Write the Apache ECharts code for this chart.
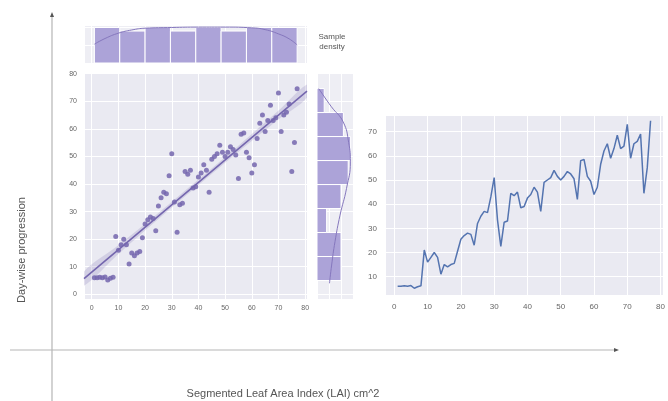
<!DOCTYPE html>
<html>
<head>
<meta charset="utf-8">
<script src="https://cdn.jsdelivr.net/npm/echarts@6/dist/echarts.min.js"></script>
<style>
    html, body { margin: 0; padding: 0; background: #fff; }
    #chart { width: 668px; height: 401px; }
</style>
</head>
<body>
<div id="chart"></div>
<script>
// LAI readings, one per sampling day (day = position + 1)
const laiValues = [
    6, 6, 6.2, 6, 6.3, 5.2, 5.8, 6.2, 21, 16,
    18, 20, 18, 11, 15, 14, 15, 15.5, 20.5, 25.5,
    27, 28, 27.5, 23, 32, 35, 37, 36.5, 43, 51,
    33.5, 22.5, 32.5, 33, 44.5, 43.5, 45, 38.5, 39, 42.5,
    44, 47, 45, 37, 49, 50, 51, 54, 51.5, 50,
    51.5, 53.5, 52.5, 50.5, 42, 58, 58.5, 51.5, 49.5, 44,
    47, 56.5, 62, 65, 59, 63, 68.5, 63, 64, 73,
    59, 65, 66, 69, 44.5, 55, 74.5
];
const days = laiValues.map((v, i) => i + 1);

// marginal histograms (bin edges + counts)
const dayBinEdges = [1, 10.5, 20, 29.5, 39, 48.5, 58, 67.5, 77];
const dayBinCounts = [10, 9, 10, 9, 10, 9, 10, 10];
const laiBinEdges = [5, 13.7, 22.4, 31.1, 39.8, 48.5, 57.2, 65.9, 74.6];
const laiBinCounts = [10, 10, 4, 10, 13, 14, 11, 3];

// density curves drawn over the histograms (in count units)
const dayKdeX = [1, 5, 10, 15, 20, 30, 40, 50, 60, 65, 70, 74, 77];
const dayKdeY = [5.3, 6.9, 8.4, 9.3, 9.8, 10.0, 10.1, 10.1, 9.9, 9.4, 8.2, 6.8, 5.1];
const laiKdeX = [4, 10.6, 19.1, 28.7, 38.4, 48, 55, 62.5, 68, 74.6];
const laiKdeY = [5.2, 6.1, 7.5, 9.6, 12.3, 13.9, 13.2, 10.9, 6, 0.7];

// regression fit and its confidence band
const fitX = [-2.9, 80.7];
const fitY = [5.7, 73.7];
const bandX = [-2.9, 10, 25, 40, 55, 70, 80.7];
const bandLow = [3.1, 14.6, 27.3, 39.6, 51.7, 63.4, 71.3];
const bandHigh = [8.3, 17.8, 29.5, 41.6, 53.9, 66.6, 76.1];

const purple = '#7466ae';
const barColor = '#aca3d8';
const font = 'Liberation Sans, Arial, sans-serif';

function bins(edges, counts) {
    return counts.map((c, i) => [edges[i], edges[i + 1], c]);
}

function histRender(horizontal) {
    return function (params, api) {
        const lo = api.value(0), hi = api.value(1), c = api.value(2);
        const a = horizontal ? api.coord([0, lo]) : api.coord([lo, 0]);
        const b = horizontal ? api.coord([c, hi]) : api.coord([hi, c]);
        return {
            type: 'rect',
            shape: {
                x: Math.min(a[0], b[0]), y: Math.min(a[1], b[1]),
                width: Math.abs(b[0] - a[0]), height: Math.abs(b[1] - a[1])
            },
            style: { fill: barColor, stroke: '#fff', lineWidth: 1 }
        };
    };
}

function tenOnly(v) {
    return Math.abs(v - Math.round(v / 10) * 10) < 1e-6 ? String(Math.round(v)) : '';
}

function valAxis(idx, min, max, labels, split, fs) {
    return {
        type: 'value', gridIndex: idx, min: min, max: max, splitNumber: split,
        axisLine: { show: false }, axisTick: { show: false },
        splitLine: { show: true, lineStyle: { color: '#ffffff', width: 1 } },
        axisLabel: labels ? { show: true, color: '#666', fontSize: fs, fontFamily: font, formatter: tenOnly, margin: labels } : { show: false }
    };
}

const chart = echarts.init(document.getElementById('chart'));
chart.setOption({
    animation: false,
    backgroundColor: '#ffffff',
    grid: [
        { left: 84, top: 72, width: 223, height: 227, show: true, backgroundColor: '#eaeaf2', borderWidth: 0 },
        { left: 84, top: 25, width: 223, height: 38, show: true, backgroundColor: '#eeeef4', borderWidth: 0 },
        { left: 317, top: 72, width: 36, height: 227, show: true, backgroundColor: '#eeeef4', borderWidth: 0 },
        { left: 385, top: 115, width: 280, height: 180, show: true, backgroundColor: '#eaeaf2', borderWidth: 0 }
    ],
    xAxis: [
        valAxis(0, -2.9, 80.7, 6, 8, 7),
        valAxis(1, -2.9, 80.7, 0, 8, 7),
        valAxis(2, 0, 15, 0, 3, 7),
        valAxis(3, -2.8, 80.8, 8, 8, 8)
    ],
    yAxis: [
        valAxis(0, -1.7, 80.6, 7, 8, 7),
        valAxis(1, 0, 10.7, 0, 2, 7),
        valAxis(2, -1.7, 80.6, 0, 8, 7),
        valAxis(3, 2.4, 76.9, 8, 7, 8)
    ],
    series: [
        {
            type: 'custom', xAxisIndex: 0, yAxisIndex: 0, clip: true, silent: true,
            data: [[0]], z: 2,
            renderItem: function (params, api) {
                const pts = [];
                bandX.forEach((x, i) => pts.push(api.coord([x, bandHigh[i]])));
                for (let i = bandX.length - 1; i >= 0; i--) pts.push(api.coord([bandX[i], bandLow[i]]));
                return { type: 'polygon', shape: { points: pts, smooth: 0.3 }, style: { fill: 'rgba(129,114,178,0.22)' } };
            }
        },
        {
            type: 'line', xAxisIndex: 0, yAxisIndex: 0, showSymbol: false, z: 3,
            data: fitX.map((x, i) => [x, fitY[i]]),
            lineStyle: { color: purple, width: 1.6 }
        },
        {
            type: 'scatter', xAxisIndex: 0, yAxisIndex: 0, symbolSize: 5, z: 4,
            data: days.map((d, i) => [d, laiValues[i]]),
            itemStyle: { color: purple, opacity: 0.85 }
        },
        {
            type: 'custom', xAxisIndex: 1, yAxisIndex: 1, renderItem: histRender(false),
            data: bins(dayBinEdges, dayBinCounts), encode: { x: [0, 1], y: 2 }
        },
        {
            type: 'line', xAxisIndex: 1, yAxisIndex: 1, showSymbol: false, smooth: true, z: 3,
            data: dayKdeX.map((x, i) => [x, dayKdeY[i]]),
            lineStyle: { color: '#8577bd', width: 1 }
        },
        {
            type: 'custom', xAxisIndex: 2, yAxisIndex: 2, renderItem: histRender(true),
            data: bins(laiBinEdges, laiBinCounts), encode: { y: [0, 1], x: 2 }
        },
        {
            type: 'line', xAxisIndex: 2, yAxisIndex: 2, showSymbol: false, smooth: true, z: 3,
            data: laiKdeX.map((y, i) => [laiKdeY[i], y]),
            lineStyle: { color: '#8577bd', width: 1 }
        },
        {
            type: 'line', xAxisIndex: 3, yAxisIndex: 3, showSymbol: false,
            data: days.map((d, i) => [d, laiValues[i]]),
            lineStyle: { color: '#5474b0', width: 1.5 }
        }
    ],
    graphic: [
        { type: 'line', shape: { x1: 52, y1: 401, x2: 52, y2: 15 }, style: { stroke: '#b5b5b5', lineWidth: 1.2 } },
        { type: 'polygon', shape: { points: [[50, 17], [52, 12], [54, 17]] }, style: { fill: '#555' } },
        { type: 'line', shape: { x1: 10, y1: 350, x2: 616, y2: 350 }, style: { stroke: '#b5b5b5', lineWidth: 1.2 } },
        { type: 'polygon', shape: { points: [[614, 348], [619, 350], [614, 352]] }, style: { fill: '#555' } },
        {
            type: 'text', x: 22, y: 250, rotation: Math.PI / 2,
            style: { text: 'Day-wise progression', fill: '#555', font: '11px ' + font, textAlign: 'center', textVerticalAlign: 'middle' }
        },
        {
            type: 'text', x: 283, y: 394,
            style: { text: 'Segmented Leaf Area Index (LAI) cm^2', fill: '#555', font: '11px ' + font, textAlign: 'center', textVerticalAlign: 'middle' }
        },
        {
            type: 'text', x: 332, y: 42,
            style: { text: 'Sample\ndensity', fill: '#555', font: '8px ' + font, textAlign: 'center', textVerticalAlign: 'middle', lineHeight: 10 }
        }
    ]
});
</script>
</body>
</html>
